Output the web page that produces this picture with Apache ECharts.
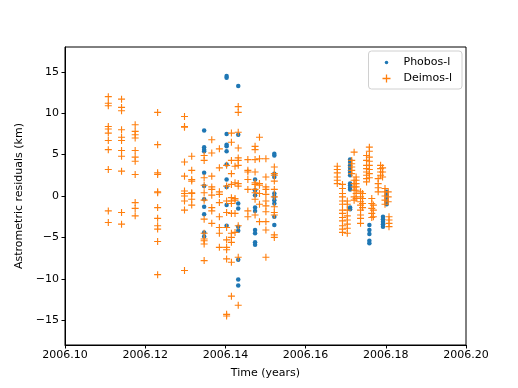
<!DOCTYPE html>
<html>
<head>
<meta charset="utf-8">
<script src="https://cdn.jsdelivr.net/npm/echarts@6/dist/echarts.min.js"></script>
<style>
  html, body { margin: 0; padding: 0; background: #fff; }
  #chart { width: 518px; height: 388px; }
</style>
</head>
<body>
<div id="chart"></div>
<script>
// observation epochs (years) and residuals (km) for each epoch
const phobosTimes = [2006.1347, 2006.1403, 2006.1432, 2006.1474, 2006.1522, 2006.1711, 2006.1759, 2006.1793, 2006.1802];
const phobosResiduals = [
  [7.9, 5.9, 5.6, 5.4, 2.8, 1.2, -0.4, -1.3, -2.2, -4.4, -4.9],
  [14.5, 14.3, 7.5, 6.2, 6.0, 5.4, 3.8, 2.0, 1.1, -1.1, -3.6],
  [13.3, 7.4, -0.9, -1.5, -3.7, -4.2, -7.7, -10.1, -10.8],
  [2.0, 0.7, 0.1, -1.4, -1.8, -4.1, -4.5, -5.6, -5.9],
  [5.1, 4.9, 2.7, 2.3, 0.3, -0.1, -0.5, -0.9, -2.5, -3.5],
  [4.4, 4.1, 3.7, 3.4, 3.1, 2.8, 2.5, 1.5, 1.3, 1.0, 0.8, -1.4, -1.6],
  [-3.5, -4.1, -4.6, -5.4, -5.7],
  [-2.5, -2.8, -3.1, -3.4, -3.7],
  [0.5, 0.1, -0.3, -0.7, -1.0]
];

const deimosTimes = [
  2006.1108, 2006.1141, 2006.1175, 2006.1231, 2006.1298, 2006.1316, 2006.1347, 2006.1366,
  2006.1385, 2006.1403, 2006.1415, 2006.1424, 2006.1432, 2006.1456, 2006.1474, 2006.1485,
  2006.1501, 2006.1522, 2006.1679, 2006.1692, 2006.1704, 2006.1715, 2006.1721, 2006.1726,
  2006.1737, 2006.1742, 2006.1752, 2006.1759, 2006.1765, 2006.1769, 2006.1781, 2006.1787,
  2006.1792, 2006.1798, 2006.1806, 2006.1808
];
const deimosResiduals = [
  [12.0, 11.2, 10.9, 8.4, 8.1, 7.6, 6.7, 5.6, 3.2, -1.8, -3.2],
  [11.7, 10.7, 10.3, 8.0, 7.1, 6.7, 5.5, 4.8, 3.0, -2.0, -3.4],
  [8.6, 7.8, 7.4, 7.0, 5.5, 4.7, 4.2, 2.6, -0.8, -1.5, -2.4],
  [10.1, 6.2, 2.8, 2.6, 0.5, 0.4, -1.4, -2.7, -3.6, -4.0, -5.5, -9.5],
  [9.6, 8.4, 8.3, 4.1, 2.4, 0.6, 0.3, 0.0, -0.6, -1.7, -9.0],
  [4.8, 3.1, 2.0, 1.8, 0.4, 0.3, -0.4, -1.1],
  [4.9, 4.3, 2.2, 1.3, 0.4, -0.5, -2.8, -4.5, -5.2, -5.4, -5.8, -7.8],
  [6.8, 5.2, 2.4, 1.1, 0.8, 0.1, -1.4, -1.8, -3.3],
  [5.7, 3.4, 0.5, 0.2, -0.8, -2.5, -3.8, -4.5, -6.2],
  [3.7, 1.2, -0.6, -2.0, -3.8, -5.3, -6.2, -6.5, -7.6, -14.3, -14.5],
  [7.6, 6.5, 4.3, 2.7, 1.4, -0.2, -0.6, -0.9, -2.1, -4.5, -5.0, -5.6, -8.0, -12.1],
  [3.6, 1.6, -0.3, -0.5, -2.1, -4.4],
  [10.8, 10.1, 7.7, 5.8, 4.6, 4.3, 3.7, 1.5, 1.2, -3.6, -7.4, -13.2],
  [4.4, 3.1, 2.9, 2.0, 0.8, -1.8, -2.5],
  [6.0, 5.6, 4.4, 2.9, 1.6, 1.4, 0.8, 0.4, -0.4, -2.3],
  [7.1, 4.5, 1.5, 1.3, 0.3, -1.0, -3.1],
  [4.5, 2.3, 1.1, 0.8, 0.2, -0.6, -1.2, -1.9, -3.1, -4.1, -7.4],
  [3.5, 2.7, 2.5, 1.8, 0.8, -0.1, -1.3, -2.0, -2.3, -4.7, -5.0],
  [3.6, 3.2, 2.8, 2.3, 1.9, 1.5],
  [1.4, 0.9, 0.3, -0.1, -0.6, -1.0, -1.7, -2.1, -2.6, -3.0, -3.6, -4.0, -4.4],
  [-0.6, -1.0, -1.7, -2.4, -2.9, -3.4, -3.9, -4.5],
  [4.3, 3.9, 3.5, 3.1, 2.7],
  [5.3, 1.9, 1.5, 1.1, 0.7, -0.1, -0.5],
  [2.3, 1.9, 1.5, 1.1, 0.7, 0.3, -0.3],
  [0.5, -0.1, -0.7, -1.1, -1.7, -2.3, -2.7, -3.3],
  [0.3, -0.3, -0.9, -1.4],
  [4.9, 4.3, 3.7, 3.3, 2.9, 2.5, 2.1, 1.7],
  [5.9, 5.4, 4.7, 4.2, 3.7, 3.2, 2.7, 2.2],
  [-0.3, -0.9, -1.5, -2.1, -2.6],
  [-1.1, -1.7, -2.5],
  [2.1, 1.5, 1.0, 0.5],
  [3.7, 3.3, 2.9, 2.5],
  [3.4, 2.9, 2.3],
  [0.9, 0.5, 0.0, -0.5, -1.0],
  [0.5, -0.1, -0.7],
  [-2.5, -2.9, -3.3, -3.7]
];

const xTicks = [2006.10, 2006.12, 2006.14, 2006.16, 2006.18, 2006.20];
const yTicks = [-15, -10, -5, 0, 5, 10, 15];

function toPoints(times, residuals) {
  const out = [];
  times.forEach((t, i) => residuals[i].forEach((r) => out.push([t, r])));
  return out;
}

const FONT = "DejaVu Sans";
const BLUE = "#1f77b4";
const ORANGE = "#ff7f0e";
const PLUS = "path://M4.2,0H5.8V10H4.2Z M0,4.2H10V5.8H0Z";
const DOT_ICON = "path://M0,0 M10,10 M2.8,5 A2.2,2.2 0 1,1 7.2,5 A2.2,2.2 0 1,1 2.8,5 Z";

const chart = echarts.init(document.getElementById("chart"), null, { renderer: "canvas" });

chart.setOption({
  animation: false,
  backgroundColor: "#fff",
  textStyle: { fontFamily: FONT },
  grid: {
    left: 65, right: 52, top: 47, bottom: 43,
    show: true, borderColor: "#000", borderWidth: 1, backgroundColor: "transparent"
  },
  legend: {
    orient: "vertical",
    right: 56,
    top: 51,
    padding: [6, 10, 5, 14],
    itemGap: 5,
    itemWidth: 8,
    itemHeight: 8,
    borderColor: "#d0d0d0",
    borderWidth: 1,
    borderRadius: 3,
    backgroundColor: "#fff",
    textStyle: { fontFamily: FONT, fontSize: 11, color: "#000", padding: [0, 0, 0, 8] },
    data: [
      { name: "Phobos-l", icon: DOT_ICON },
      { name: "Deimos-l", icon: PLUS }
    ]
  },
  xAxis: {
    type: "value",
    min: 2006.10,
    max: 2006.20,
    name: "Time (years)",
    nameLocation: "middle",
    nameGap: 23,
    nameTextStyle: { fontFamily: FONT, fontSize: 11, color: "#000" },
    axisLine: { onZero: false, lineStyle: { color: "#000", width: 1 } },
    axisTick: { show: true, length: 3.5, lineStyle: { color: "#000" }, customValues: xTicks },
    axisLabel: {
      fontFamily: FONT, fontSize: 11, color: "#000", margin: 5,
      customValues: xTicks,
      formatter: (v) => v.toFixed(2)
    },
    splitLine: { show: false }
  },
  yAxis: {
    type: "value",
    min: -18,
    max: 18,
    name: "Astrometric residuals (km)",
    nameLocation: "middle",
    nameGap: 32,
    nameTextStyle: { fontFamily: FONT, fontSize: 11, color: "#000" },
    axisLine: { onZero: false, lineStyle: { color: "#000", width: 1 } },
    axisTick: { show: true, length: 3.5, lineStyle: { color: "#000" }, customValues: yTicks },
    axisLabel: {
      fontFamily: FONT, fontSize: 11, color: "#000", margin: 6,
      customValues: yTicks,
      formatter: (v) => (v < 0 ? "\u2212" + Math.abs(v) : String(v))
    },
    splitLine: { show: false }
  },
  series: [
    {
      name: "Phobos-l",
      type: "scatter",
      symbol: "circle",
      symbolSize: 4.5,
      itemStyle: { color: BLUE, opacity: 1 },
      data: toPoints(phobosTimes, phobosResiduals)
    },
    {
      name: "Deimos-l",
      type: "scatter",
      symbol: PLUS,
      symbolSize: 7,
      itemStyle: { color: ORANGE, opacity: 1 },
      data: toPoints(deimosTimes, deimosResiduals)
    }
  ]
});
</script>
</body>
</html>
